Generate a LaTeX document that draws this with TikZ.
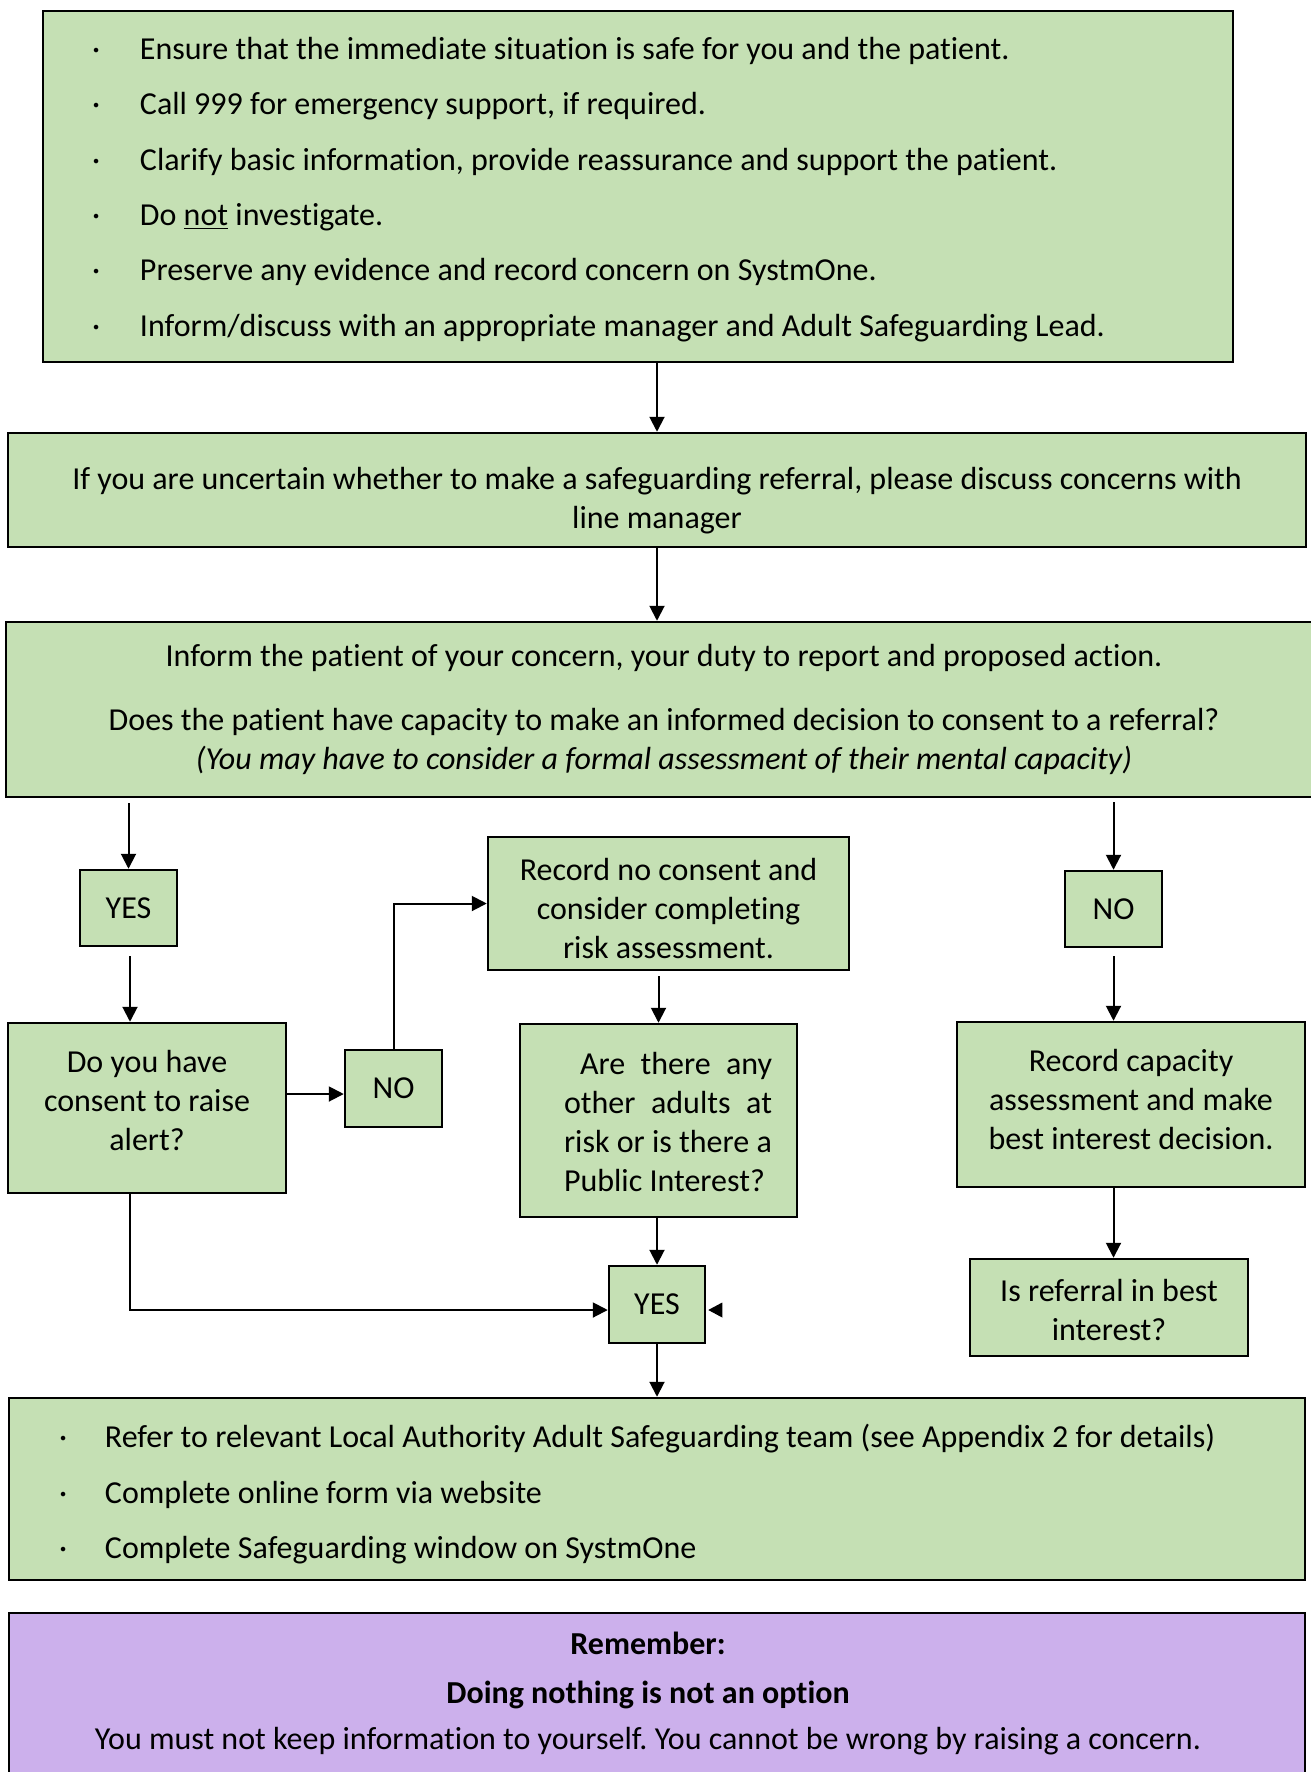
\documentclass[tikz,border=0pt]{standalone}
\usepackage{fontspec}
\setmainfont{Carlito}[Ligatures=NoCommon]
\usetikzlibrary{arrows.meta,calc}
\definecolor{boxgreen}{HTML}{C5E0B4}
\definecolor{boxpurple}{RGB}{204,176,236}
\newcommand\vpad[3]{\raisebox{0pt}[\dimexpr\height+#1\relax][\dimexpr\depth+#2\relax]{\begin{tabular}{@{}c@{}}#3\end{tabular}}}
\newcommand\vpadl[3]{\raisebox{0pt}[\dimexpr\height+#1\relax][\dimexpr\depth+#2\relax]{\begin{tabular}{@{}l@{}}#3\end{tabular}}}
\newcommand\bul{\makebox[24pt][l]{·}}
\frenchspacing
\begin{document}
\begin{tikzpicture}[x=0.5pt,y=-0.5pt,
  every node/.style={font=\fontsize{16pt}{19.5pt}\selectfont\frenchspacing},
  gbox/.style={draw=black, line width=1.25pt, fill=boxgreen, inner sep=0pt},
  arr/.style={line width=1pt, -{Triangle[length=7.5pt,width=7.5pt]}},
  ]
\useasboundingbox (0,0) rectangle (1311,1772);

% top box
\node[gbox, minimum width=595pt, minimum height=175.5pt, inner xsep=24.5pt] (top) at (638,186.5)
  {\makebox[546pt][l]{\vpadl{3.5pt}{0pt}{\bul Ensure that the immediate situation is safe for you and the patient.\\[8.15pt]
   \bul Call 999 for emergency support, if required.\\[8.15pt]
   \bul Clarify basic information, provide reassurance and support the patient.\\[8.15pt]
   \bul Do \underline{not} investigate.\\[8.15pt]
   \bul Preserve any evidence and record concern on SystmOne.\\[8.15pt]
   \bul Inform/discuss with an appropriate manager and Adult Safeguarding Lead.}}};

\node[gbox, minimum width=649pt, minimum height=57pt] (unsure) at (657,490)
  {\vpad{11.5pt}{0pt}{If you are uncertain whether to make a safeguarding referral, please discuss concerns with\\ line manager}};

\node[gbox, minimum width=658pt, minimum height=87.5pt] (inform) at (664,709.5)
  {\vpad{1pt}{0pt}{Inform the patient of your concern, your duty to report and proposed action.\\[12.5pt]
   Does the patient have capacity to make an informed decision to consent to a referral?\\
   \textit{(You may have to consider a formal assessment of their mental capacity)}}};

\node[gbox, minimum width=48.5pt, minimum height=38pt] (yes1) at (128.5,908) {YES};
\node[gbox, minimum width=139pt, minimum height=85pt] (cons) at (147,1108)
  {\vpad{0pt}{4.5pt}{Do you have\\ consent to raise\\ alert?}};
\node[gbox, minimum width=48.5pt, minimum height=38.5pt] (no1) at (393.5,1088.5) {NO};
\node[gbox, minimum width=180.5pt, minimum height=63.5pt] (rec) at (668.5,903.5)
  {\vpad{8pt}{0pt}{Record no consent and\\ consider completing\\ risk assessment.}};
\node[gbox, minimum width=138.5pt, minimum height=96.5pt] (are) at (658.5,1120.5)
  {\vpadl{4.5pt}{0pt}{\hspace*{17.5pt}\makebox[96pt][s]{Are there any}\\
   \hspace*{9.5pt}\makebox[104pt][s]{other adults at}\\
   \hspace*{9.5pt}risk or is there a\\
   \hspace*{9.5pt}Public Interest?}};
\node[gbox, minimum width=48pt, minimum height=38.5pt] (yes2) at (657,1304.5) {YES};

\node[gbox, minimum width=48.5pt, minimum height=38pt] (no2) at (1113.5,909) {NO};
\node[gbox, minimum width=174pt, minimum height=82.5pt] (cap) at (1131,1104.5)
  {\vpad{0pt}{2pt}{Record capacity\\ assessment and make\\ best interest decision.}};
\node[gbox, minimum width=139pt, minimum height=48.5pt] (best) at (1109,1307.5)
  {\vpad{6pt}{0pt}{Is referral in best\\ interest?}};

\node[gbox, minimum width=648pt, minimum height=91pt, inner xsep=25pt] (refer) at (657,1489)
  {\makebox[598pt][l]{\vpadl{6.5pt}{0pt}{\makebox[23pt][l]{·}Refer to relevant Local Authority Adult Safeguarding team (see Appendix 2 for details)\\[8.25pt]
   \makebox[23pt][l]{·}Complete online form via website\\[8.25pt]
   \makebox[23pt][l]{·}Complete Safeguarding window on SystmOne}}};

\node[gbox, fill=boxpurple, minimum width=648pt, minimum height=88.5pt] (remember) at (657,1701.5)
  {\hspace*{-9pt}\vpad{0pt}{7pt}{\textbf{Remember:}\\[5pt]
   \textbf{Doing nothing is not an option}\\[3.5pt]
   You must not keep information to yourself. You cannot be wrong by raising a concern.}};

% connectors
\draw[arr] (unsure.north |- top.south) -- (unsure.north);
\draw[arr] (unsure.south) -- (unsure.south |- inform.north);
\draw[arr] ($(yes1.north |- inform.south)+(0,5)$) -- (yes1.north);
\draw[arr] ($(yes1.south)+(1.5,9)$) -- ($(yes1.south |- cons.north)+(1.5,0)$);
\draw[arr] ($(cons.east)+(0,-14)$) -- ($(no1.west)+(0,5.5)$);
\draw[arr] (no1.north) |- (rec.west);
\draw[arr] ($(are.north |- rec.south)+(0,5)$) -- (are.north);
\draw[arr] (yes2.north |- are.south) -- (yes2.north);
\draw[arr] ($(cons.south)+(-17,0)$) |- ($(yes2.west)+(0,5.5)$);
\draw[arr] (yes2.south) -- (yes2.south |- refer.north);
\draw[arr] ($(no2.north |- inform.south)+(0,4)$) -- (no2.north);
\draw[arr] ($(no2.south)+(0,8)$) -- (no2.south |- cap.north);
\draw[arr] (no2.south |- cap.south) -- (no2.south |- best.north);
% stray arrowhead at right of YES
\fill ($(yes2.east)+(2,5.5)$) -- ++(14,-7.5) -- ++(0,15) -- cycle;
\end{tikzpicture}
\end{document}
